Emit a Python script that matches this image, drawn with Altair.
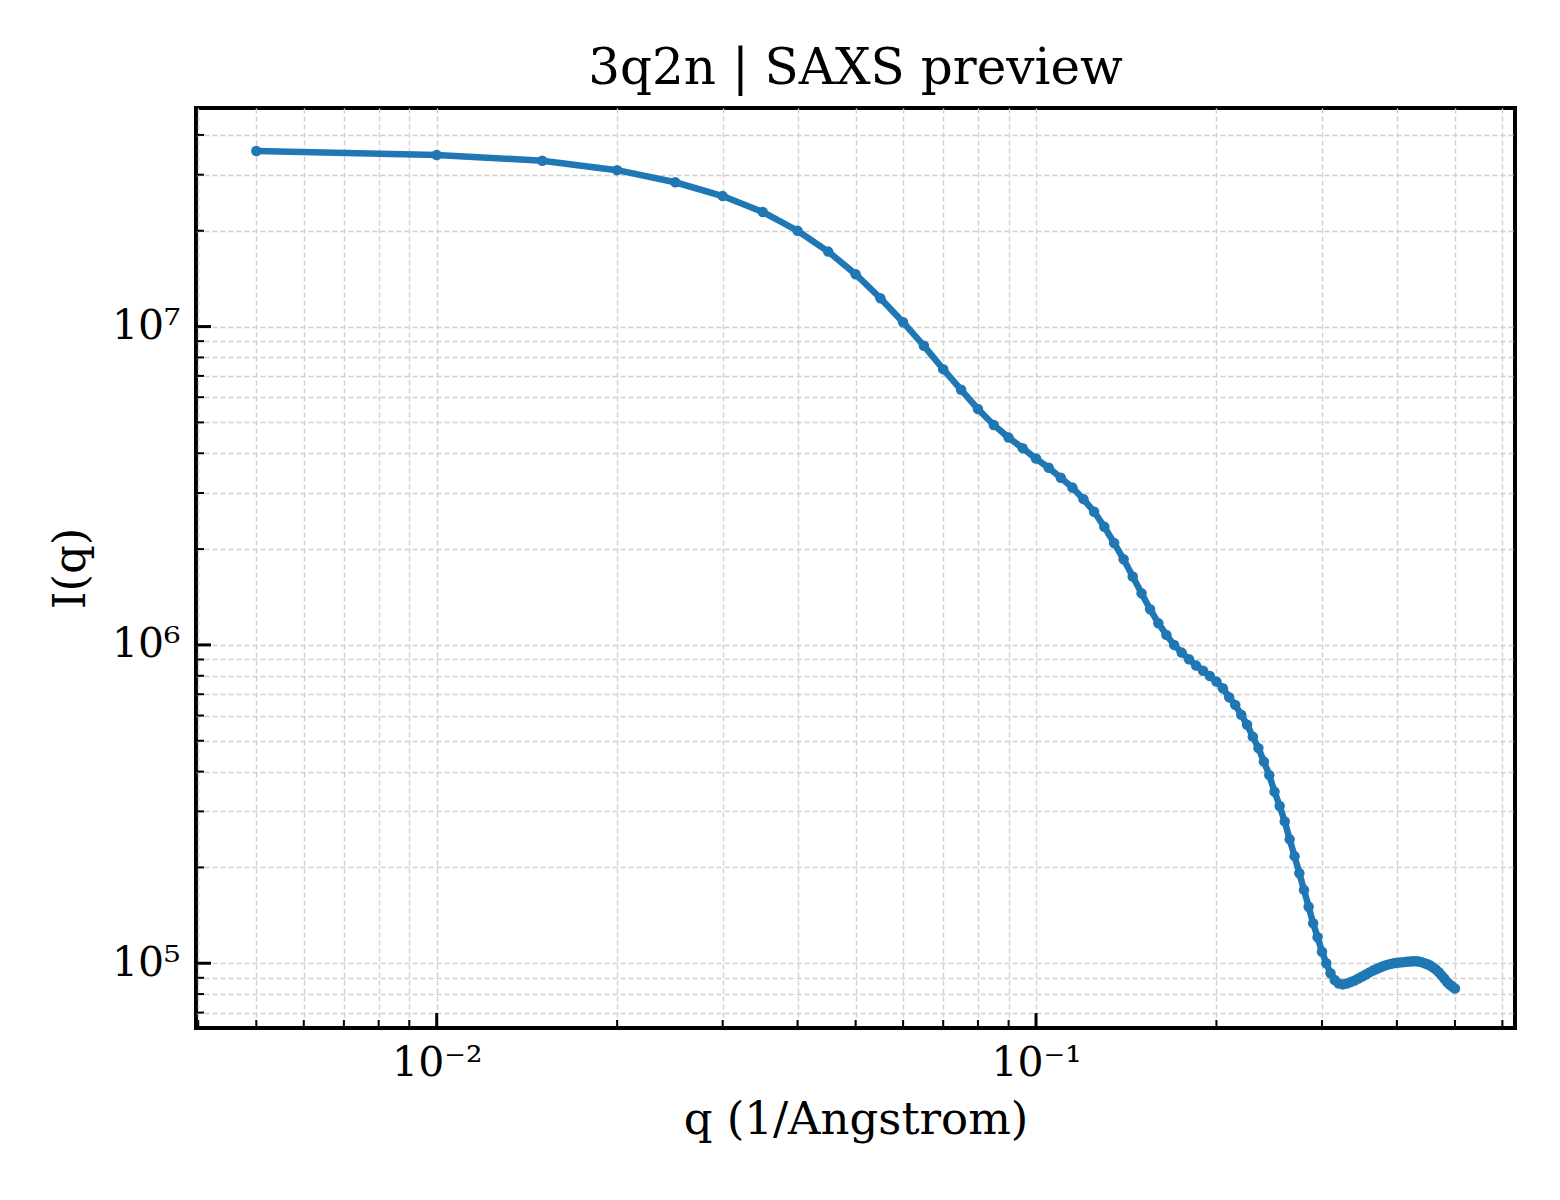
import altair as alt
import pandas as pd

# scattering vector q (1/Angstrom) and intensity I(q)
q = [
    0.005, 0.010, 0.015, 0.020, 0.025, 0.030, 0.035, 0.040, 0.045, 0.050,
    0.055, 0.060, 0.065, 0.070, 0.075, 0.080, 0.085, 0.090, 0.095, 0.100,
    0.105, 0.110, 0.115, 0.120, 0.125, 0.130, 0.135, 0.140, 0.145, 0.150,
    0.155, 0.160, 0.165, 0.170, 0.175, 0.180, 0.185, 0.190, 0.195, 0.200,
    0.205, 0.210, 0.215, 0.220, 0.225, 0.230, 0.235, 0.240, 0.245, 0.250,
    0.255, 0.260, 0.265, 0.270, 0.275, 0.280, 0.285, 0.290, 0.295, 0.300,
    0.305, 0.310, 0.315, 0.320, 0.325, 0.330, 0.335, 0.340, 0.345, 0.350,
    0.355, 0.360, 0.365, 0.370, 0.375, 0.380, 0.385, 0.390, 0.395, 0.400,
    0.405, 0.410, 0.415, 0.420, 0.425, 0.430, 0.435, 0.440, 0.445, 0.450,
    0.455, 0.460, 0.465, 0.470, 0.475, 0.480, 0.485, 0.490, 0.495, 0.500,
]
intensity = [
    3.56e7, 3.46e7, 3.32e7, 3.10e7, 2.84e7, 2.57e7, 2.29e7, 2.00e7, 1.72e7, 1.46e7,
    1.228e7, 1.032e7, 8.70e6, 7.35e6, 6.33e6, 5.51e6, 4.91e6, 4.48e6, 4.15e6, 3.85e6,
    3.60e6, 3.35e6, 3.12e6, 2.87e6, 2.62e6, 2.35e6, 2.09e6, 1.858e6, 1.64e6, 1.453e6,
    1.295e6, 1.17e6, 1.075e6, 1.00e6, 9.46e5, 9.02e5, 8.61e5, 8.30e5, 7.99e5, 7.67e5,
    7.31e5, 6.85e5, 6.48e5, 6.03e5, 5.61e5, 5.15e5, 4.74e5, 4.30e5, 3.90e5, 3.46e5,
    3.12e5, 2.79e5, 2.45e5, 2.17e5, 1.918e5, 1.70e5, 1.505e5, 1.335e5, 1.207e5, 1.087e5,
    1.00e5, 9.30e4, 8.86e4, 8.64e4, 8.58e4, 8.64e4, 8.73e4, 8.83e4, 8.96e4, 9.09e4,
    9.22e4, 9.36e4, 9.49e4, 9.59e4, 9.70e4, 9.80e4, 9.88e4, 9.95e4, 1.000e5, 1.003e5,
    1.006e5, 1.008e5, 1.011e5, 1.013e5, 1.014e5, 1.014e5, 1.012e5, 1.008e5, 1.000e5, 9.93e4,
    9.83e4, 9.69e4, 9.55e4, 9.37e4, 9.16e4, 8.96e4, 8.73e4, 8.57e4, 8.45e4, 8.33e4,
]

# axis ticks (matplotlib-style log ticks, major + minor)
x_major = [0.01, 0.1]
x_major_labels = ["10⁻²", "10⁻¹"]
x_minor = [0.004, 0.005, 0.006, 0.007, 0.008, 0.009,
           0.02, 0.03, 0.04, 0.05, 0.06, 0.07, 0.08, 0.09,
           0.2, 0.3, 0.4, 0.5, 0.6]
y_major = [1e5, 1e6, 1e7]
y_major_labels = ["10⁵", "10⁶", "10⁷"]
y_minor = [7e4, 8e4, 9e4,
           2e5, 3e5, 4e5, 5e5, 6e5, 7e5, 8e5, 9e5,
           2e6, 3e6, 4e6, 5e6, 6e6, 7e6, 8e6, 9e6,
           2e7, 3e7, 4e7]

W, H = 1319, 920
BLUE = "#1f77b4"
FONT = "DejaVu Serif"


def label_expr(values, labels):
    parts = [f"abs(datum.value - {v}) < {v * 1e-6} ? '{t}'" for v, t in zip(values, labels)]
    return " : ".join(parts) + " : ''"


def make_axis(title, values, labels, **kw):
    return alt.Axis(
        title=title,
        values=sorted(values),
        labelExpr=label_expr(labels[0], labels[1]),
        grid=True,
        gridDash=[5, 3],
        gridColor="#d0d0d0",
        gridWidth=1.4,
        ticks=False,
        tickSize=0,
        domain=False,
        labelFont=FONT,
        labelFontSize=41,
        labelColor="black",
        labelOverlap=False,
        labelBound=False,
        labelFlush=False,
        titleFont=FONT,
        titleFontSize=45,
        titleFontWeight="normal",
        titleColor="black",
        **kw,
    )


x_scale = alt.Scale(type="log", domain=[0.003966, 0.6298], nice=False)
y_scale = alt.Scale(type="log", domain=[6.26e4, 4.86e7], nice=False)

x_axis = make_axis("q (1/Angstrom)", x_minor + x_major, (x_major, x_major_labels),
                   labelPadding=15, titlePadding=14)
y_axis = make_axis("I(q)", y_minor + y_major, (y_major, y_major_labels),
                   labelPadding=16, titlePadding=18)

df = pd.DataFrame({"q": q, "I": intensity})

base = alt.Chart(df).encode(
    x=alt.X("q:Q", scale=x_scale, axis=x_axis),
    y=alt.Y("I:Q", scale=y_scale, axis=y_axis),
)
line = base.mark_line(color=BLUE, strokeWidth=6.5)
points = base.mark_circle(color=BLUE, size=110, opacity=1)


def x_ticks(values, length, width):
    return alt.Chart(pd.DataFrame({"q": values})).mark_rule(
        color="black", strokeWidth=width
    ).encode(
        x=alt.X("q:Q", scale=x_scale, axis=x_axis),
        y=alt.value(H),
        y2=alt.value(H - length),
    )


def y_ticks(values, length, width):
    return alt.Chart(pd.DataFrame({"I": values})).mark_rule(
        color="black", strokeWidth=width
    ).encode(
        y=alt.Y("I:Q", scale=y_scale, axis=y_axis),
        x=alt.value(0),
        x2=alt.value(length),
    )


chart = (
    alt.layer(
        line,
        points,
        x_ticks(x_minor, 8, 2),
        x_ticks(x_major, 15, 3),
        y_ticks(y_minor, 8, 2),
        y_ticks(y_major, 15, 3),
    )
    .properties(
        width=W,
        height=H,
        background="white",
        autosize=alt.AutoSizeParams(type="none"),
        padding={"left": 188, "top": 100, "right": 29, "bottom": 160},
        title=alt.TitleParams(
            "3q2n | SAXS preview",
            font=FONT,
            fontSize=50,
            fontWeight="normal",
            color="black",
            anchor="middle",
            offset=14,
        ),
    )
    .configure_view(stroke="black", strokeWidth=4)
)

chart.save("out.html", embed_options={"renderer": "svg", "actions": False})
